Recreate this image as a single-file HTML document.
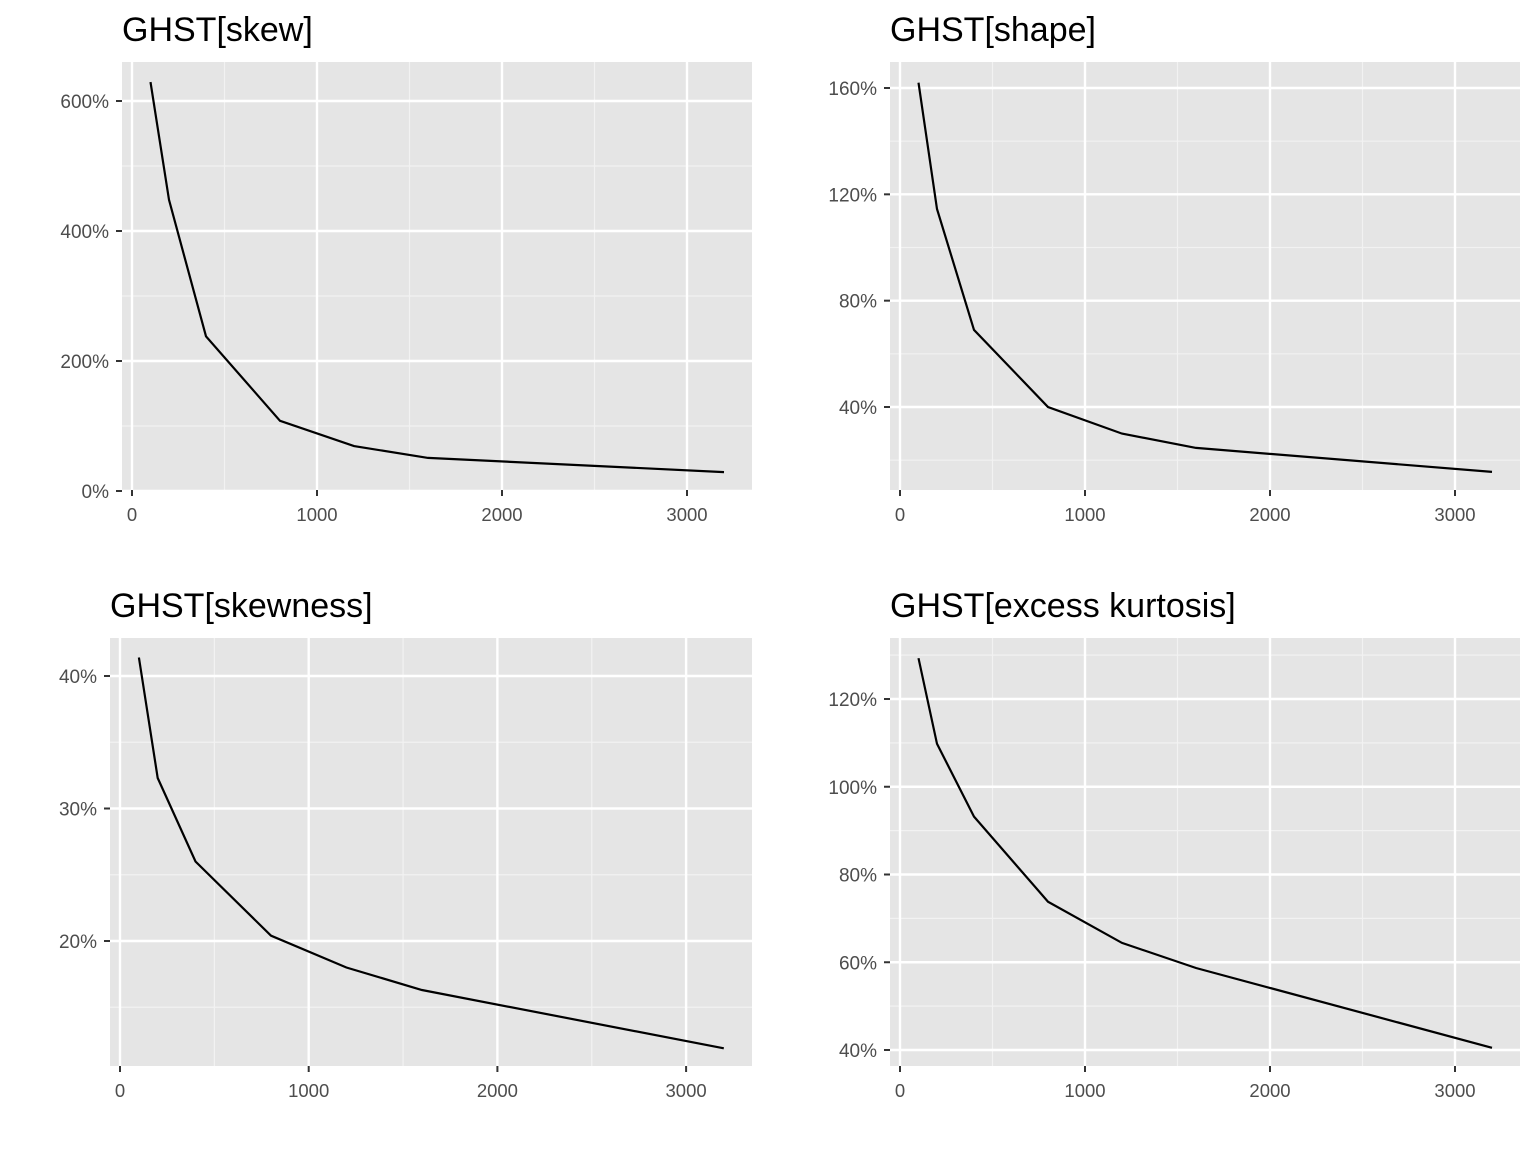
<!DOCTYPE html>
<html><head><meta charset="utf-8"><style>body{margin:0;background:#fff}svg{display:block}</style></head>
<body>
<svg id="c" width="1536" height="1152" xmlns="http://www.w3.org/2000/svg"></svg>
<script>
const xValues = [100, 200, 400, 800, 1200, 1600, 3200];
const skewValues = [629, 448, 238, 108, 69, 51, 29];
const shapeValues = [162, 114.5, 69, 40, 30, 24.6, 15.6];
const skewnessValues = [41.4, 32.3, 26, 20.4, 18, 16.3, 11.9];
const kurtosisValues = [129.3, 109.8, 93.2, 73.8, 64.4, 58.7, 40.5];
const xTicks = [0, 1000, 2000, 3000];
const xMinor = [500, 1500, 2500];
const skewTicks = [0, 200, 400, 600];
const shapeTicks = [40, 80, 120, 160];
const skewnessTicks = [20, 30, 40];
const kurtosisTicks = [40, 60, 80, 100, 120];

const NS = "http://www.w3.org/2000/svg";
const svg = document.getElementById('c');
function mk(tag, attrs, parent) {
  const e = document.createElementNS(NS, tag);
  for (const k in attrs) e.setAttribute(k, attrs[k]);
  parent.appendChild(e);
  return e;
}
function panel(cfg) {
  const g = mk('g', {}, svg);
  
  
  const {L, R, T, B, x0, x1000, yA, vA, yB, vB} = cfg;
  const sx = v => x0 + (x1000 - x0) * v / 1000;
  const sy = v => yA + (yB - yA) * (v - vA) / (vB - vA);
  const bg = mk('rect', {x: L, y: T, width: R - L, height: B - T, fill: '#e5e5e5'}, g);
  
  
  const step = cfg.ticks[1] - cfg.ticks[0];
  const minors = [];
  for (let v = cfg.ticks[0] - step * 1.5; v <= cfg.ticks[cfg.ticks.length - 1] + step * 2; v += step) minors.push(v);
  minors.forEach(v => { const y = sy(v); if (y > T && y < B) mk('line', {x1: L, x2: R, y1: y, y2: y, stroke: '#f2f2f2', 'stroke-width': 1.2}, g); });
  xMinor.forEach(v => { const x = sx(v); if (x > L && x < R) mk('line', {x1: x, x2: x, y1: T, y2: B, stroke: '#f2f2f2', 'stroke-width': 1.2}, g); });
  cfg.ticks.forEach(v => {
    const y = sy(v);
    mk('line', {x1: L, x2: R, y1: y, y2: y, stroke: '#fff', 'stroke-width': 2.4}, g);
    mk('line', {x1: L - 6, x2: L, y1: y, y2: y, stroke: '#333', 'stroke-width': 2}, g);
    const t = mk('text', {x: L - 13, y: y + 7, 'text-anchor': 'end', 'font-size': 19, fill: '#4d4d4d', 'font-family': 'Liberation Sans, sans-serif'}, g);
    t.textContent = v + '%';
    
    
  });
  xTicks.forEach(v => {
    const x = sx(v);
    mk('line', {x1: x, x2: x, y1: T, y2: B, stroke: '#fff', 'stroke-width': 2.4}, g);
    mk('line', {x1: x, x2: x, y1: B, y2: B + 6, stroke: '#333', 'stroke-width': 2}, g);
    const t = mk('text', {x: x, y: B + 31, 'text-anchor': 'middle', 'font-size': 18.5, fill: '#4d4d4d', 'font-family': 'Liberation Sans, sans-serif'}, g);
    t.textContent = v;
    
    
  });
  const pts = xValues.map((xv, i) => sx(xv).toFixed(1) + ',' + sy(cfg.values[i]).toFixed(1)).join(' ');
  const line = mk('polyline', {points: pts, fill: 'none', stroke: '#000', 'stroke-width': 2.2}, g);
  
  
  const title = mk('text', {x: cfg.titleX, y: T - 21, 'font-size': 34, fill: '#000', 'font-family': 'Liberation Sans, sans-serif'}, g);
  title.textContent = cfg.title;
  
  
}
panel({name: 'skew', title: 'GHST[skew]', titleX: 122, L: 122, R: 752, T: 62, B: 490, x0: 132, x1000: 317, yA: 491, vA: 0, yB: 101, vB: 600, ticks: skewTicks, values: skewValues});
panel({name: 'shape', title: 'GHST[shape]', titleX: 890, L: 890, R: 1520, T: 62, B: 490, x0: 900, x1000: 1085, yA: 407, vA: 40, yB: 88, vB: 160, ticks: shapeTicks, values: shapeValues});
panel({name: 'skewness', title: 'GHST[skewness]', titleX: 110, L: 110, R: 752, T: 638, B: 1066, x0: 120, x1000: 308.7, yA: 941, vA: 20, yB: 676, vB: 40, ticks: skewnessTicks, values: skewnessValues});
panel({name: 'kurtosis', title: 'GHST[excess kurtosis]', titleX: 890, L: 890, R: 1520, T: 638, B: 1066, x0: 900, x1000: 1085, yA: 1050, vA: 40, yB: 699, vB: 120, ticks: kurtosisTicks, values: kurtosisValues});
</script>
</body></html>
